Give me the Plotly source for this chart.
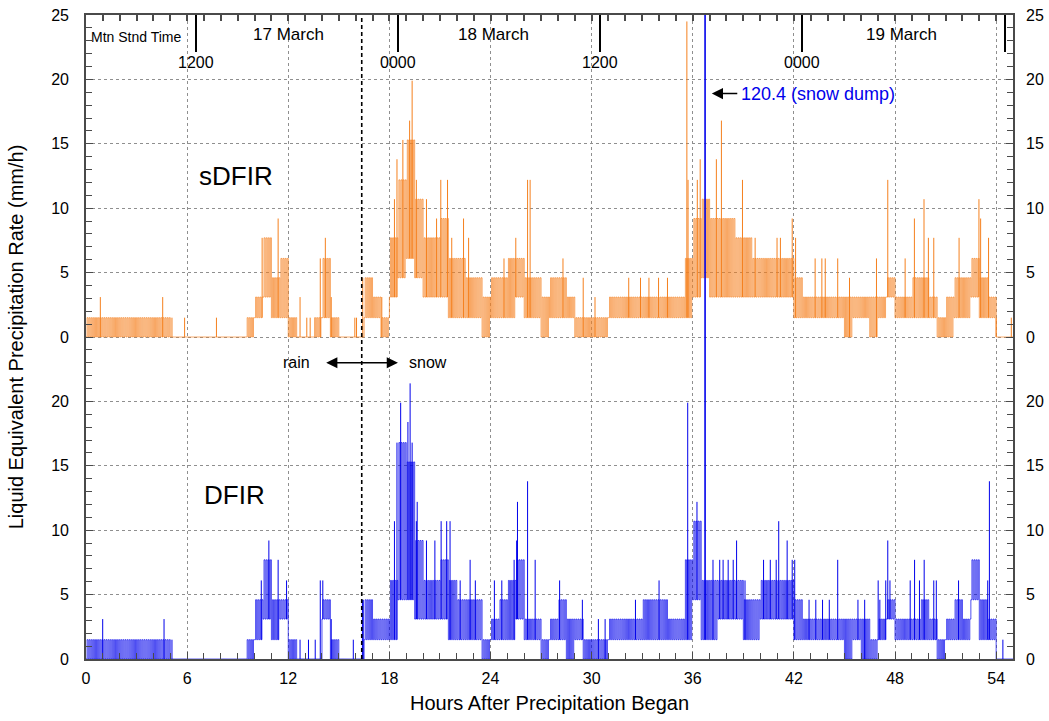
import plotly.graph_objects as go

# ---------------- data ----------------
BIN_HOURS = 0.5          # envelope bins of 0.5 h, 110 bins over 0-55 h
X_MAX_HOURS = 55.0

# sDFIR (orange): per-bin lower / upper envelope of the 1-min rates (mm/h)
sdfir_low = [
    0, 0, 0, 0, 0, 0, 0, 0, 0, 0,
    0, 0, 0, 0, 0, 0, 0, 0, 0, 0,
    1.5, 3.1, 1.5, 1.5, 0, 0, 0, 0, 1.5, 0,
    0, 0, 0, 1.5, 1.5, 0, 3.1, 4.6, 6.1, 4.6,
    3.1, 3.1, 3.1, 1.5, 1.5, 1.5, 1.5, 0, 1.5, 1.5,
    1.5, 3.1, 1.5, 1.5, 0, 1.5, 1.5, 1.5, 0, 0,
    0, 0, 1.5, 1.5, 1.5, 1.5, 1.5, 1.5, 1.5, 1.5,
    1.5, 1.5, 3.1, 4.6, 3.1, 3.1, 3.1, 3.1, 3.1, 3.1,
    3.1, 3.1, 3.1, 3.1, 1.5, 1.5, 1.5, 1.5, 1.5, 1.5,
    0, 1.5, 1.5, 0, 1.5, 3.1, 1.5, 1.5, 1.5, 1.5,
    1.5, 0, 0, 1.5, 1.5, 3.1, 1.5, 1.5, 0, 0,
]
sdfir_high = [
    1.5, 1.5, 1.5, 1.5, 1.5, 1.5, 1.5, 1.5, 1.5, 1.5,
    0, 0, 0, 0, 0, 0, 0, 0, 0, 1.5,
    3.1, 7.7, 4.6, 6.1, 1.5, 0, 0, 1.5, 6.1, 1.5,
    0, 0, 0, 4.6, 3.1, 1.5, 7.7, 12.2, 15.3, 10.7,
    7.7, 7.7, 9.2, 6.1, 6.1, 4.6, 4.6, 3.1, 4.6, 4.6,
    6.1, 6.1, 4.6, 4.6, 3.1, 4.6, 4.6, 3.1, 1.5, 1.5,
    1.5, 1.5, 3.1, 3.1, 3.1, 3.1, 3.1, 3.1, 3.1, 3.1,
    3.1, 6.1, 9.2, 10.7, 9.2, 9.2, 9.2, 7.7, 7.7, 6.1,
    6.1, 6.1, 6.1, 6.1, 4.6, 3.1, 3.1, 3.1, 3.1, 3.1,
    3.1, 3.1, 3.1, 3.1, 3.1, 4.6, 3.1, 3.1, 4.6, 4.6,
    3.1, 1.5, 3.1, 4.6, 4.6, 6.1, 4.6, 3.1, 0, 0,
]
# isolated sDFIR peaks (hour, mm/h)
sdfir_spike_hours = [
    0.85, 4.55, 5.1, 5.85, 7.74, 10.45, 11.4, 12.7, 13.1, 13.3,
    13.9, 14.2, 14.55, 15.95, 16.05, 16.42, 17.55, 18.3, 18.45, 18.8,
    19.2, 19.35, 19.6, 20.2, 20.8, 21.05, 21.45, 21.7, 22.4, 22.7,
    24.8, 25.5, 26.2, 26.35, 28.3, 29.5, 30.2, 32.2, 32.9, 33.4,
    33.97, 34.5, 35.65, 35.72, 36.27, 36.44, 37.4, 37.7, 38.95, 39.7,
    41.0, 41.2, 41.9, 42.1, 43.26, 43.66, 43.86, 44.6, 45.3, 46.9,
    47.57, 48.6, 49.15, 49.72, 49.98, 50.3, 51.8, 52.98, 53.08, 53.55,
    54.0, 54.9,
]
sdfir_spike_values = [
    3.1, 3.1, 1.5, 1.5, 1.5, 7.7, 9.2, 3.1, 1.5, 1.5,
    6.1, 7.7, 3.1, 1.5, 1.5, 4.6, 3.1, 10.7, 13.8, 15.3,
    16.8, 19.9, 12.2, 10.7, 9.2, 12.2, 12.2, 7.7, 9.2, 7.7,
    6.1, 7.7, 12.2, 12.2, 6.1, 4.6, 3.1, 4.6, 4.6, 4.6,
    4.6, 4.6, 24.5, 12.2, 12.2, 13.8, 13.8, 16.8, 12.2, 7.7,
    7.7, 7.7, 9.2, 7.7, 6.1, 6.1, 6.1, 6.1, 4.6, 6.1,
    12.2, 6.1, 9.2, 10.7, 7.7, 7.7, 7.7, 10.7, 9.2, 7.7,
    1.5, 1.5,
]

# DFIR (blue): per-bin lower / upper envelope (mm/h)
dfir_low = [
    0, 0, 0, 0, 0, 0, 0, 0, 0, 0,
    0, 0, 0, 0, 0, 0, 0, 0, 0, 0,
    1.5, 3.1, 1.5, 3.1, 0, 0, 0, 0, 3.1, 0,
    0, 0, 0, 1.5, 1.5, 1.5, 1.5, 4.6, 4.6, 3.1,
    3.1, 3.1, 3.1, 1.5, 1.5, 1.5, 1.5, 0, 1.5, 1.5,
    1.5, 3.1, 1.5, 1.5, 0, 1.5, 1.5, 0, 1.5, 0,
    0, 0, 1.5, 1.5, 1.5, 1.5, 1.5, 1.5, 1.5, 1.5,
    1.5, 1.5, 4.6, 1.5, 1.5, 3.1, 3.1, 3.1, 1.5, 1.5,
    3.1, 3.1, 3.1, 3.1, 1.5, 1.5, 1.5, 1.5, 1.5, 1.5,
    0, 1.5, 0, 0, 1.5, 3.1, 1.5, 1.5, 1.5, 1.5,
    1.5, 0, 1.5, 1.5, 1.5, 4.6, 1.5, 1.5, 0, 0,
]
dfir_high = [
    1.5, 1.5, 1.5, 1.5, 1.5, 1.5, 1.5, 1.5, 1.5, 1.5,
    0, 0, 0, 0, 0, 0, 0, 0, 0, 1.5,
    4.6, 7.7, 4.6, 4.6, 1.5, 0, 0, 0, 4.6, 1.5,
    0, 0, 0, 4.6, 3.1, 3.1, 6.1, 16.8, 15.3, 9.2,
    6.1, 6.1, 7.7, 6.1, 4.6, 4.6, 4.6, 1.5, 3.1, 4.6,
    6.1, 7.7, 3.1, 3.1, 1.5, 3.1, 4.6, 3.1, 3.1, 1.5,
    1.5, 1.5, 3.1, 3.1, 3.1, 3.1, 4.6, 4.6, 4.6, 3.1,
    3.1, 7.7, 10.7, 6.1, 6.1, 6.1, 6.1, 6.1, 4.6, 4.6,
    6.1, 6.1, 6.1, 6.1, 4.6, 3.1, 3.1, 3.1, 3.1, 3.1,
    3.1, 3.1, 3.1, 1.5, 3.1, 4.6, 3.1, 3.1, 3.1, 4.6,
    3.1, 1.5, 3.1, 4.6, 3.1, 7.7, 4.6, 3.1, 0, 0,
]
dfir_spike_hours = [
    0.99, 4.63, 5.1, 10.4, 10.85, 11.4, 11.9, 12.7, 13.2, 13.6,
    13.9, 14.05, 14.55, 15.86, 16.4, 16.45, 18.3, 18.45, 18.67, 19.1,
    19.23, 19.35, 19.6, 19.65, 20.2, 20.7, 21.07, 21.4, 21.6, 22.2,
    22.79, 23.1, 24.23, 24.67, 25.4, 25.55, 25.6, 26.2, 26.65, 28.1,
    29.45, 30.4, 30.8, 32.6, 34.0, 35.7, 36.25, 37.2, 37.6, 37.8,
    38.1, 38.4, 38.6, 39.1, 40.2, 40.6, 40.95, 41.1, 41.6, 41.9,
    42.05, 42.9, 43.3, 43.7, 44.1, 44.6, 45.8, 46.2, 47.0, 47.1,
    47.45, 47.57, 47.7, 48.9, 49.16, 49.45, 49.73, 50.3, 50.45, 51.77,
    53.5, 53.6, 54.4,
]
dfir_spike_values = [
    3.1, 3.1, 1.5, 6.1, 9.2, 7.7, 6.1, 1.5, 1.5, 1.5,
    6.1, 6.1, 3.1, 1.5, 4.6, 4.6, 10.7, 16.8, 19.9, 18.4,
    21.4, 16.8, 10.7, 12.2, 9.2, 9.2, 10.7, 10.7, 10.7, 6.1,
    7.7, 6.1, 6.1, 6.1, 7.7, 9.2, 12.2, 13.8, 7.7, 6.1,
    4.6, 3.1, 3.1, 4.6, 6.1, 19.9, 12.2, 7.7, 7.7, 7.7,
    7.7, 7.7, 9.2, 6.1, 7.7, 7.7, 7.7, 10.7, 9.2, 7.7,
    7.7, 4.6, 4.6, 4.6, 4.6, 7.7, 4.6, 4.6, 6.1, 4.6,
    6.1, 9.2, 6.1, 6.1, 7.7, 6.1, 7.7, 6.1, 6.1, 6.1,
    6.1, 13.8, 1.5,
]

snow_dump_hour = 36.73
snow_dump_value = 120.4
rain_snow_hour = 16.36

x_tick_hours = [0, 6, 12, 18, 24, 30, 36, 42, 48, 54]
bottom_ticks = [0, 5, 10, 15, 20]
top_ticks = [0, 5, 10, 15, 20, 25]
mst_tick_hours = [6.5, 18.5, 30.5, 42.5, 54.5]
mst_tick_labels = ["1200", "0000", "1200", "0000", ""]
date_label_hours = [12.0, 24.2, 48.4]
date_labels = ["17 March", "18 March", "19 March"]

# ---------------- layout helpers ----------------
PANEL = 25.0          # the top (sDFIR) panel sits one 25-unit panel above DFIR
ORANGE = "rgb(245,128,30)"
BLUE = "rgb(0,0,235)"
FONT = "Liberation Sans, Arial, Helvetica, sans-serif"


def band_xy(low, high, offset, n_osc=4):
    """min-max envelope drawn as a dense hatch of vertical strokes"""
    xs, ys = [], []
    sub = BIN_HOURS / (2 * n_osc)
    for i, (lo, hi) in enumerate(zip(low, high)):
        t0 = i * BIN_HOURS
        for k in range(n_osc):
            xs += [t0 + 2 * k * sub, t0 + (2 * k + 1) * sub]
            ys += [lo + offset, hi + offset]
    xs.append(len(low) * BIN_HOURS)
    ys.append(low[-1] + offset)
    return xs, ys


def spikes_xy(hours, values, low, offset):
    xs, ys = [], []
    for h, v in zip(hours, values):
        i = min(int(h / BIN_HOURS), len(low) - 1)
        xs += [h, h, None]
        ys += [low[i] + offset, v + offset, None]
    return xs, ys


fig = go.Figure()

bx, by = band_xy(sdfir_low, sdfir_high, PANEL)
fig.add_trace(go.Scatter(x=bx, y=by, mode="lines", line=dict(color=ORANGE, width=0.7, shape="hv"),
                         hoverinfo="skip", showlegend=False))
sx, sy = spikes_xy(sdfir_spike_hours, sdfir_spike_values, sdfir_low, PANEL)
fig.add_trace(go.Scatter(x=sx, y=sy, mode="lines", line=dict(color=ORANGE, width=1),
                         hoverinfo="skip", showlegend=False))

bx, by = band_xy(dfir_low, dfir_high, 0)
fig.add_trace(go.Scatter(x=bx, y=by, mode="lines", line=dict(color=BLUE, width=0.7, shape="hv"),
                         hoverinfo="skip", showlegend=False))
sx, sy = spikes_xy(dfir_spike_hours, dfir_spike_values, dfir_low, 0)
fig.add_trace(go.Scatter(x=sx, y=sy, mode="lines", line=dict(color=BLUE, width=1),
                         hoverinfo="skip", showlegend=False))

# snow dump (off scale)
i_dump = int(snow_dump_hour / BIN_HOURS)
fig.add_trace(go.Scatter(x=[snow_dump_hour, snow_dump_hour], y=[dfir_low[i_dump], snow_dump_value],
                         mode="lines", line=dict(color=BLUE, width=1.6),
                         hoverinfo="skip", showlegend=False))

# invisible trace so the overlay axes (right y, top x) are drawn
fig.add_trace(go.Scatter(x=[0], y=[0], xaxis="x2", yaxis="y2", mode="markers",
                         marker=dict(opacity=0), hoverinfo="skip", showlegend=False))

# rain / snow transition
fig.add_shape(type="line", x0=rain_snow_hour, x1=rain_snow_hour, y0=0, y1=2 * PANEL,
              xref="x", yref="y", line=dict(color="black", width=1.6, dash="4px,3px"))

tickvals = bottom_ticks + [t + PANEL for t in top_ticks]
ticktext = [str(t) for t in bottom_ticks] + [str(t) for t in top_ticks]

axis_col = "#4a4a4a"
grid_col = "#8f8f8f"
yaxis_common = dict(range=[0, 2 * PANEL], tickmode="array", tickvals=tickvals, ticktext=ticktext,
                    ticks="inside", ticklen=7, tickcolor=axis_col, tickwidth=1,
                    minor=dict(tickmode="linear", tick0=0, dtick=1, ticks="inside", ticklen=6,
                               tickcolor=axis_col, tickwidth=1, showgrid=False),
                    tickfont=dict(size=16, color="black", family=FONT), zeroline=False,
                    fixedrange=True, automargin=False)

fig.update_layout(
    width=1049, height=721,
    margin=dict(l=86, r=36, t=15, b=62, autoexpand=False),
    paper_bgcolor="white", plot_bgcolor="white",
    font=dict(family=FONT, color="black"),
    xaxis=dict(range=[0, X_MAX_HOURS], tickmode="array", tickvals=x_tick_hours,
               ticks="inside", ticklen=7, tickcolor=axis_col, automargin=False,
               minor=dict(tickmode="linear", tick0=0, dtick=1, ticks="inside", ticklen=6,
                          tickcolor=axis_col, showgrid=False),
               showgrid=True, gridcolor=grid_col, griddash="dot", gridwidth=1,
               showline=True, linecolor=axis_col, linewidth=1.6, mirror=True,
               zeroline=False, tickfont=dict(size=16, family=FONT, color="black"),
               ticklabelstandoff=4, fixedrange=True,
               title=dict(text="Hours After Precipitation Began", font=dict(size=20, family=FONT),
                          standoff=10)),
    xaxis2=dict(range=[0, X_MAX_HOURS], overlaying="x", side="top", anchor="y",
                tickmode="array", tickvals=mst_tick_hours, ticks="inside", ticklen=37,
                tickwidth=2, tickcolor="black", showticklabels=False, showgrid=False,
                showline=False, zeroline=False, automargin=False, fixedrange=True,
                minor=dict(tickmode="linear", tick0=0, dtick=1, ticks="inside", ticklen=6,
                           tickcolor=axis_col, showgrid=False)),
    yaxis=dict(**yaxis_common, side="left", showgrid=True, gridcolor=grid_col, griddash="dot",
               gridwidth=1, showline=True, linecolor=axis_col, linewidth=1.6, mirror=True,
               ticklabelstandoff=12,
               title=dict(text="Liquid Equivalent Precipitation Rate (mm/h)",
                          font=dict(size=20, family=FONT), standoff=22)),
    yaxis2=dict(**yaxis_common, overlaying="y", side="right", anchor="x", showgrid=False,
                showline=False, ticklabelstandoff=12),
)

annotations = []
# header: time zone label, date labels, MST tick labels
annotations.append(dict(text="Mtn Stnd Time", x=0.2, xref="x", y=0.966, yref="paper",
                        xanchor="left", yanchor="middle", showarrow=False,
                        font=dict(size=14, family="Liberation Sans Narrow, " + FONT)))
for h, lab in zip(date_label_hours, date_labels):
    annotations.append(dict(text=lab, x=h, xref="x", y=0.969, yref="paper", xanchor="center",
                            yanchor="middle", showarrow=False, font=dict(size=17)))
for h, lab in zip(mst_tick_hours, mst_tick_labels):
    if lab:
        annotations.append(dict(text=lab, x=h, xref="x", y=0.927, yref="paper", xanchor="center",
                                yanchor="middle", showarrow=False, font=dict(size=16)))
# panel names
annotations.append(dict(text="sDFIR", x=8.9, y=PANEL + 12.5, xref="x", yref="y", showarrow=False,
                        font=dict(size=26)))
annotations.append(dict(text="DFIR", x=8.8, y=12.7, xref="x", yref="y", showarrow=False,
                        font=dict(size=26)))
# snow dump note
annotations.append(dict(text="", x=snow_dump_hour + 0.4, y=PANEL + 18.9, xref="x", yref="y",
                        ax=snow_dump_hour + 2.0, ay=PANEL + 18.9, axref="x", ayref="y",
                        showarrow=True, arrowhead=2, arrowsize=1.4, arrowwidth=1.6,
                        arrowcolor="black"))
annotations.append(dict(text=f"{snow_dump_value} (snow dump)", x=snow_dump_hour + 2.0,
                        y=PANEL + 18.9, xref="x", yref="y", xanchor="left", yanchor="middle",
                        showarrow=False, font=dict(size=18, color=BLUE)))
# rain <-> snow
annotations.append(dict(text="", x=rain_snow_hour + 2.15, y=23.0, xref="x", yref="y",
                        ax=rain_snow_hour - 2.2, ay=23.0, axref="x", ayref="y",
                        showarrow=True, arrowhead=2, startarrowhead=2, arrowside="end+start",
                        arrowsize=1.4, arrowwidth=1.6, arrowcolor="black"))
annotations.append(dict(text="rain", x=rain_snow_hour - 3.9, y=23.0, xref="x", yref="y",
                        showarrow=False, font=dict(size=16)))
annotations.append(dict(text="snow", x=rain_snow_hour + 3.95, y=23.0, xref="x", yref="y",
                        showarrow=False, font=dict(size=16)))
fig.update_layout(annotations=annotations)

# the page body's default 8px margin would push the 1049x721 figure off the window
fig.write_html("out.html", config={"displayModeBar": False},
               post_script="document.body.style.margin='0';")
